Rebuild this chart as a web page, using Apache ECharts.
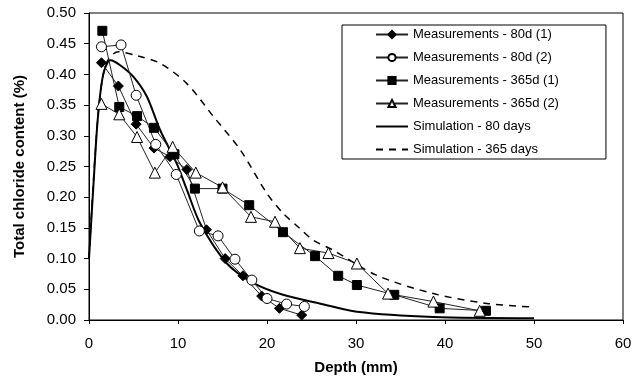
<!DOCTYPE html>
<html>
<head>
<meta charset="utf-8">
<script src="https://cdn.jsdelivr.net/npm/echarts@6/dist/echarts.min.js"></script>
<style>
  html, body { margin: 0; padding: 0; background: #fff; }
  #chart { width: 635px; height: 381px; }
</style>
</head>
<body>
<div id="chart"></div>
<script>
// depth (mm) / chloride content (%) pairs
const meas80d1 = [[1.4,0.419],[3.3,0.381],[5.3,0.319],[7.3,0.28],[9.1,0.266],[11.0,0.245],[13.2,0.147],[15.3,0.10],[17.3,0.072],[19.4,0.039],[21.4,0.019],[23.9,0.008]];
const meas80d2 = [[1.4,0.445],[3.6,0.448],[5.3,0.366],[7.5,0.286],[9.8,0.237],[12.4,0.145],[14.5,0.137],[16.4,0.099],[18.3,0.065],[20.0,0.035],[22.2,0.026],[24.2,0.022]];
const meas365d1 = [[1.5,0.471],[3.4,0.347],[5.4,0.332],[7.3,0.313],[9.6,0.27],[11.9,0.214],[15.0,0.214],[18.0,0.187],[21.8,0.143],[25.4,0.104],[28.0,0.072],[30.1,0.057],[34.3,0.041],[39.4,0.019],[44.6,0.015]];
const meas365d2 = [[1.4,0.352],[3.4,0.335],[5.4,0.298],[7.4,0.24],[9.4,0.282],[12.0,0.24],[15.0,0.216],[18.2,0.168],[20.9,0.16],[23.7,0.117],[26.9,0.109],[30.1,0.092],[33.6,0.043],[38.7,0.03],[43.9,0.015]];
const sim80 = [[0,0.10],[0.5,0.22],[1.0,0.33],[1.6,0.40],[2.4,0.423],[3.5,0.415],[5.0,0.396],[6.5,0.364],[8.0,0.309],[9.85,0.255],[11.0,0.212],[12.5,0.157],[15.5,0.092],[18.5,0.06],[21.8,0.041],[25.9,0.027],[30.1,0.0135],[38.7,0.005],[50,0.003]];
const sim365 = [[0,0.10],[0.6,0.25],[1.2,0.36],[2.0,0.42],[3.3,0.437],[5.5,0.43],[8.0,0.418],[11.0,0.385],[14.0,0.331],[17.0,0.277],[20.0,0.206],[21.8,0.174],[23.7,0.149],[25.2,0.13],[27.4,0.114],[32.3,0.073],[38.7,0.043],[44.7,0.027],[50,0.021]];

const seriesNames = ['Measurements - 80d (1)','Measurements - 80d (2)','Measurements - 365d (1)','Measurements - 365d (2)','Simulation - 80 days','Simulation - 365 days'];

const chart = echarts.init(document.getElementById('chart'));

const measStyle = (name, data, symbol, size, filled) => ({
  name: name,
  type: 'line',
  data: data,
  symbol: symbol,
  symbolSize: size,
  showAllSymbol: true,
  lineStyle: { color: '#222', width: 1 },
  itemStyle: { color: filled ? '#000' : '#fff', borderColor: '#000', borderWidth: 1 },
  z: 3
});

chart.setOption({
  animation: false,
  textStyle: { fontFamily: 'Liberation Sans, Arial, sans-serif' },
  grid: { left: 89, right: 12, top: 13, bottom: 61, show: true, borderColor: '#000', borderWidth: 1 },
  legend: {
    data: seriesNames.map((n, i) => i < 4 ? n : { name: n, itemStyle: { opacity: 0 } }),
    orient: 'vertical',
    left: 342,
    top: 25,
    itemWidth: 32,
    itemHeight: 9,
    itemGap: 10,
    padding: [3, 47, 3, 33],
    backgroundColor: '#fff',
    borderColor: '#000',
    borderWidth: 1,
    borderRadius: 0,
    textStyle: { fontSize: 13, color: '#000' }
  },
  xAxis: {
    type: 'value',
    min: 0, max: 60, interval: 10,
    name: 'Depth (mm)',
    nameLocation: 'middle',
    nameGap: 40,
    nameTextStyle: { fontWeight: 'bold', fontSize: 15, color: '#000' },
    axisLine: { lineStyle: { color: '#000' } },
    axisTick: { length: 4, lineStyle: { color: '#000' } },
    axisLabel: { fontSize: 15, color: '#000', margin: 16 },
    splitLine: { show: false }
  },
  yAxis: {
    type: 'value',
    min: 0, max: 0.5, interval: 0.05,
    name: 'Total chloride content (%)',
    nameLocation: 'middle',
    nameGap: 62,
    nameTextStyle: { fontWeight: 'bold', fontSize: 15, color: '#000' },
    axisLine: { show: true, lineStyle: { color: '#000' } },
    axisTick: { show: true, length: 5, lineStyle: { color: '#000' } },
    axisLabel: { fontSize: 15, color: '#000', margin: 13, formatter: v => v.toFixed(2) },
    splitLine: { show: false }
  },
  series: [
    {
      name: seriesNames[4], type: 'line', data: sim80, symbol: 'none', smooth: 0.3,
      lineStyle: { color: '#000', width: 2 }, itemStyle: { color: '#000' }, z: 2
    },
    {
      name: seriesNames[5], type: 'line', data: sim365, symbol: 'none', smooth: 0.3,
      lineStyle: { color: '#000', width: 1.5, type: [7, 6] }, itemStyle: { color: '#000' }, z: 2
    },
    measStyle(seriesNames[0], meas80d1, 'diamond', 10, true),
    measStyle(seriesNames[1], meas80d2, 'circle', 10, false),
    measStyle(seriesNames[2], meas365d1, 'rect', 9, true),
    measStyle(seriesNames[3], meas365d2, 'triangle', 11, false)
  ]
});
</script>
</body>
</html>
